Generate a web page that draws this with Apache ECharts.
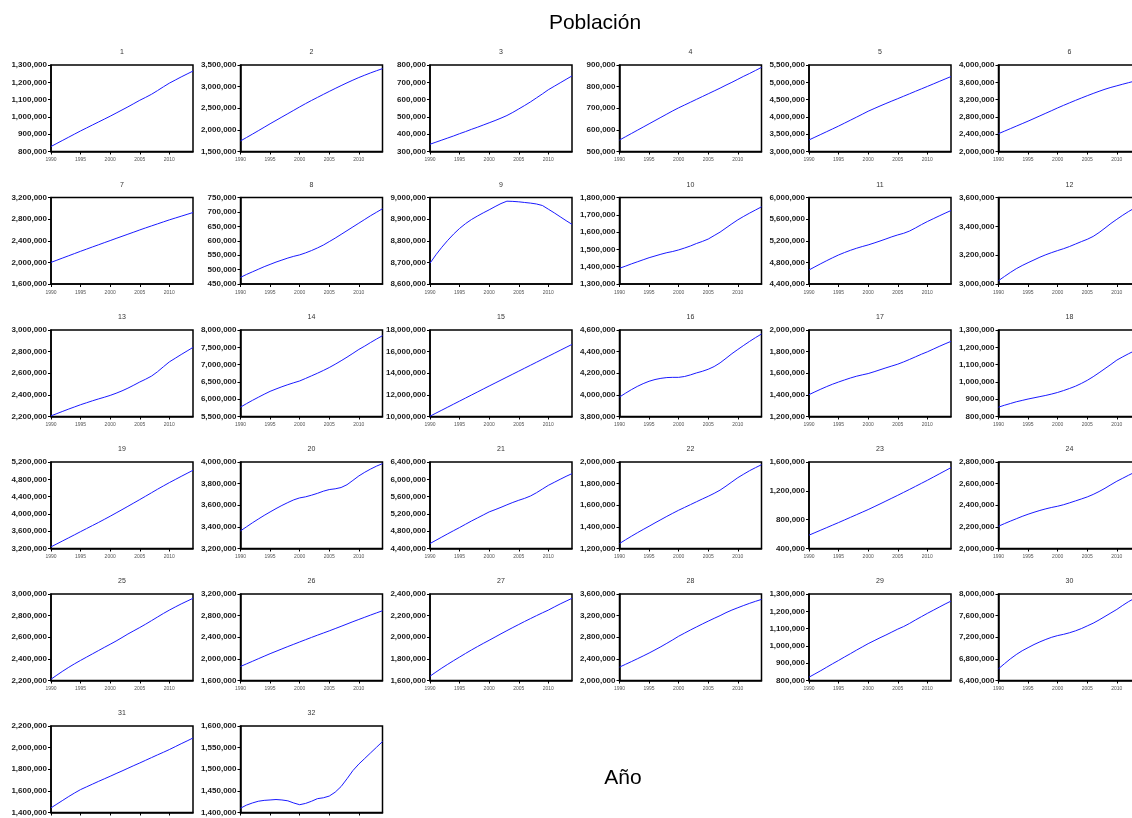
<!DOCTYPE html>
<html>
<head>
<meta charset="utf-8">
<script src="https://cdn.jsdelivr.net/npm/echarts@6/dist/echarts.min.js"></script>
<style>
html,body{margin:0;padding:0;background:#fff;}
#chart{width:1132px;height:818px;}
</style>
</head>
<body>
<div id="chart"></div>
<script>
// ---------- DATA (population, in thousands) ----------
const years = [1990,1991,1992,1993,1994,1995,1996,1997,1998,1999,2000,2001,2002,2003,2004,2005,2006,2007,2008,2009,2010,2011,2012,2013,2014];
const xTickYears = [1990,1995,2000,2005,2010];
const panelNames = ['1','2','3','4','5','6','7','8','9','10','11','12','13','14','15','16','17','18','19','20','21','22','23','24','25','26','27','28','29','30','31','32'];
const UNIT = 1000;

const pop1  = [829,847,865,883,901,919,936,953,970,987,1004,1022,1040,1058,1077,1096,1113,1131,1152,1174,1195,1213,1231,1248,1265];
const pop2  = [1744,1822,1900,1980,2060,2141,2219,2297,2375,2453,2531,2607,2680,2750,2820,2889,2957,3023,3088,3150,3210,3265,3318,3368,3416];
const pop3  = [342,354,366,378,390,403,415,428,440,453,466,479,493,508,526,546,566,587,610,633,657,677,697,717,737];
const pop4  = [553,568,583,598,613,628,643,658,673,688,702,715,728,741,754,767,780,793,807,820,834,848,861,875,889];
const pop5  = [3334,3414,3494,3574,3654,3735,3820,3905,3990,4077,4164,4240,4315,4387,4458,4527,4598,4669,4740,4810,4880,4952,5024,5095,5166];
const pop6  = [2412,2470,2528,2586,2644,2702,2763,2824,2885,2946,3008,3067,3125,3181,3236,3290,3342,3392,3440,3482,3519,3556,3592,3628,3660];
const pop7  = [2000,2041,2082,2123,2164,2205,2245,2285,2324,2364,2403,2443,2482,2521,2560,2600,2638,2675,2712,2749,2786,2820,2854,2888,2922];
const pop8  = [473,483,492,501,510,518,526,533,540,546,551,558,566,575,585,597,609,622,635,648,661,674,687,699,711];
const pop9  = [8696,8735,8770,8802,8831,8857,8879,8898,8914,8929,8943,8958,8972,8983,8982,8980,8977,8974,8970,8963,8946,8929,8911,8893,8876];
const pop10 = [1391,1403,1416,1428,1440,1452,1462,1472,1481,1488,1497,1508,1520,1534,1546,1560,1580,1600,1624,1648,1671,1691,1710,1728,1746];
const pop11 = [4659,4718,4776,4832,4886,4937,4982,5023,5060,5093,5123,5158,5195,5233,5273,5308,5338,5380,5437,5498,5555,5607,5659,5710,5759];
const pop12 = [3023,3052,3080,3106,3128,3148,3167,3186,3203,3218,3232,3245,3260,3277,3294,3310,3330,3357,3388,3420,3449,3477,3503,3527,3550];
const pop13 = [2206,2227,2248,2269,2289,2309,2327,2345,2362,2378,2395,2415,2437,2462,2490,2519,2545,2574,2614,2660,2705,2739,2773,2806,2839];
const pop14 = [5771,5870,5965,6055,6143,6227,6295,6360,6420,6475,6527,6600,6675,6750,6830,6915,7010,7110,7215,7325,7438,7535,7640,7740,7835];
const pop15 = [10030,10309,10588,10867,11146,11425,11704,11983,12262,12541,12820,13095,13370,13645,13920,14195,14470,14745,15020,15295,15570,15845,16120,16395,16667];
const pop16 = [3980,4015,4048,4078,4104,4126,4142,4153,4160,4162,4162,4170,4185,4203,4218,4237,4262,4296,4338,4381,4420,4458,4495,4530,4563];
const pop17 = [1402,1428,1453,1477,1499,1519,1538,1556,1572,1585,1597,1614,1632,1650,1667,1684,1705,1728,1752,1776,1798,1823,1848,1872,1895];
const pop18 = [854,865,875,885,893,901,908,915,922,930,939,950,962,975,991,1009,1030,1053,1077,1101,1126,1145,1163,1180,1196];
const pop19 = [3238,3308,3378,3448,3518,3590,3660,3730,3800,3873,3946,4022,4098,4175,4253,4331,4410,4490,4570,4647,4723,4795,4867,4938,5008];
const pop20 = [3363,3400,3437,3472,3506,3538,3569,3598,3625,3650,3668,3678,3693,3710,3730,3745,3752,3764,3790,3830,3871,3905,3935,3962,3985];
const pop21 = [4515,4590,4665,4740,4813,4885,4960,5035,5105,5175,5246,5298,5352,5410,5465,5515,5560,5615,5690,5775,5860,5930,6000,6068,6131];
const pop22 = [1246,1280,1313,1345,1376,1406,1437,1467,1497,1526,1554,1580,1606,1632,1658,1683,1710,1740,1777,1816,1855,1888,1920,1948,1975];
const pop23 = [585,620,655,690,725,760,796,832,868,904,940,979,1018,1058,1098,1138,1179,1220,1262,1304,1346,1390,1434,1478,1522];
const pop24 = [2206,2230,2253,2275,2297,2317,2335,2352,2367,2380,2391,2405,2422,2440,2458,2477,2500,2527,2557,2590,2622,2650,2678,2705,2732];
const pop25 = [2212,2250,2287,2322,2355,2386,2416,2446,2476,2506,2535,2565,2597,2630,2660,2690,2721,2754,2787,2820,2851,2880,2908,2934,2960];
const pop26 = [1860,1907,1954,2002,2049,2096,2140,2184,2228,2270,2313,2355,2397,2438,2478,2518,2560,2602,2645,2688,2729,2770,2811,2851,2890];
const pop27 = [1640,1678,1715,1750,1784,1817,1850,1882,1913,1943,1972,2002,2032,2061,2090,2118,2146,2173,2200,2226,2251,2280,2308,2334,2360];
const pop28 = [2248,2298,2349,2401,2454,2508,2566,2625,2688,2752,2819,2877,2935,2990,3045,3098,3150,3200,3255,3303,3346,3388,3428,3465,3500];
const pop29 = [819,838,857,877,897,916,936,955,975,994,1013,1030,1047,1063,1080,1097,1112,1130,1150,1169,1188,1206,1224,1242,1259];
const pop30 = [6617,6710,6800,6880,6950,7008,7065,7115,7160,7200,7231,7254,7283,7318,7360,7410,7460,7520,7585,7650,7715,7790,7860,7920,7970];
const pop31 = [1443,1478,1513,1548,1581,1612,1637,1662,1687,1711,1735,1760,1784,1809,1834,1858,1883,1908,1933,1957,1982,2009,2036,2062,2089];
const pop32 = [1410,1417,1422,1426,1428,1429,1430,1429,1427,1422,1418,1421,1426,1432,1434,1438,1447,1460,1478,1497,1512,1525,1538,1551,1564];

// y-axis tick ranges: [min, max, step] (in persons)
const yMin  = [800000,1500000,300000,500000,3000000,2000000,1600000,450000,8600000,1300000,4400000,3000000,2200000,5500000,10000000,3800000,1200000,800000,3200000,3200000,4400000,1200000,400000,2000000,2200000,1600000,1600000,2000000,800000,6400000,1400000,1400000];
const yMax  = [1300000,3500000,800000,900000,5500000,4000000,3200000,750000,9000000,1800000,6000000,3600000,3000000,8000000,18000000,4600000,2000000,1300000,5200000,4000000,6400000,2000000,1600000,2800000,3000000,3200000,2400000,3600000,1300000,8000000,2200000,1600000];
const yStep = [100000,500000,100000,100000,500000,400000,400000,50000,100000,100000,400000,200000,200000,500000,2000000,200000,200000,100000,400000,200000,400000,200000,400000,200000,200000,400000,200000,400000,100000,400000,200000,50000];

const allPop = [pop1,pop2,pop3,pop4,pop5,pop6,pop7,pop8,pop9,pop10,pop11,pop12,pop13,pop14,pop15,pop16,pop17,pop18,pop19,pop20,pop21,pop22,pop23,pop24,pop25,pop26,pop27,pop28,pop29,pop30,pop31,pop32];

// ---------- LAYOUT ----------
const colLeft = [51, 240.5, 430, 619.5, 809, 998.5];
const rowTop  = [65, 197.5, 330, 462, 594, 726];
const plotW = 142, plotH = 86.5;
const FONT = '"Liberation Sans", Arial, sans-serif';

function fmt(v){ return String(Math.round(v)).replace(/\B(?=(\d{3})+(?!\d))/g, ','); }

const grids = [], xAxes = [], yAxes = [], series = [], graphics = [];
allPop.forEach((vals, i) => {
  const r = Math.floor(i / 6), c = i % 6;
  const left = colLeft[c], top = rowTop[r];
  grids.push({left: left, top: top, width: plotW, height: plotH, show: true,
              borderColor: '#000', borderWidth: 1.5, backgroundColor: 'transparent',
              containLabel: false, outerBoundsMode: 'none'});
  xAxes.push({
    gridIndex: i, type: 'value', min: 1990, max: 2014,
    axisLine: {show: true, onZero: false, lineStyle: {color: '#000', width: 1.5}},
    axisTick: {show: true, length: 3, customValues: xTickYears, lineStyle: {color: '#000', width: 1}},
    axisLabel: {show: true, customValues: xTickYears, fontSize: 5, color: '#555', margin: 6,
                fontFamily: FONT, formatter: v => String(v)},
    splitLine: {show: false}
  });
  yAxes.push({
    gridIndex: i, type: 'value', min: yMin[i], max: yMax[i], interval: yStep[i],
    axisLine: {show: true, onZero: false, lineStyle: {color: '#000', width: 1.5}},
    axisTick: {show: true, length: 3, lineStyle: {color: '#000', width: 1}},
    axisLabel: {show: true, fontSize: 8, fontWeight: 'bold', color: '#1a1a1a', margin: 4,
                fontFamily: FONT, formatter: fmt},
    splitLine: {show: false}
  });
  series.push({
    type: 'line', xAxisIndex: i, yAxisIndex: i,
    data: years.map((y, k) => [y, vals[k] * UNIT]),
    showSymbol: false, symbol: 'none', smooth: false,
    lineStyle: {color: '#1a1aff', width: 1}, silent: true
  });
  graphics.push({
    type: 'text', x: left + plotW / 2, y: top - 12.5,
    style: {text: panelNames[i], font: '7px ' + FONT, fill: '#333', textAlign: 'center', textVerticalAlign: 'middle'}
  });
});

graphics.push({type: 'text', x: 595, y: 23,
  style: {text: 'Población', font: '21px ' + FONT, fill: '#000', textAlign: 'center', textVerticalAlign: 'middle'}});
graphics.push({type: 'text', x: 623, y: 778,
  style: {text: 'Año', font: '21px ' + FONT, fill: '#000', textAlign: 'center', textVerticalAlign: 'middle'}});

const chart = echarts.init(document.getElementById('chart'), null, {renderer: 'canvas'});
chart.setOption({
  animation: false,
  backgroundColor: '#fff',
  grid: grids,
  xAxis: xAxes,
  yAxis: yAxes,
  series: series,
  graphic: graphics
});
</script>
</body>
</html>
